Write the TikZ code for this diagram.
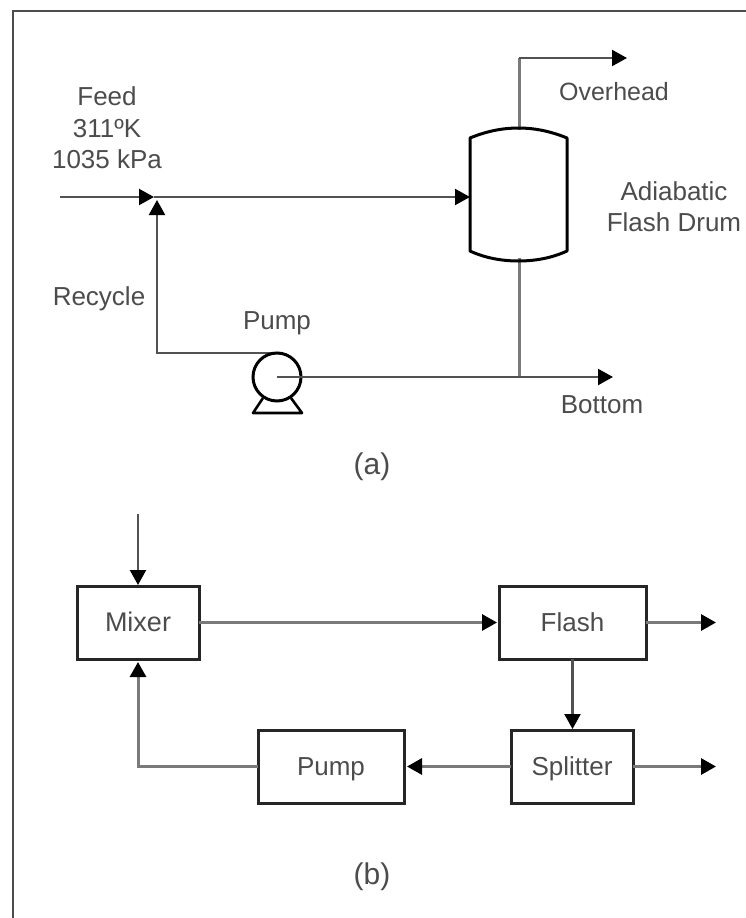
\documentclass[tikz,border=0pt]{standalone}
\usepackage{fontspec}
\setmainfont{Liberation Sans}
\usetikzlibrary{arrows.meta,calc}
\definecolor{inkline}{gray}{0.15}
\definecolor{pipe}{gray}{0.48}
\definecolor{labelgray}{gray}{0.30}
\tikzset{
  lbl/.style={text=labelgray,inner sep=0pt,align=center,font=\fontsize{26}{31.5}\selectfont},
  captionlbl/.style={text=labelgray,inner sep=0pt,font=\fontsize{30}{36}\selectfont},
  blockbox/.style={draw=inkline,line width=3pt,fill=white,inner sep=0pt,outer sep=0pt,text=labelgray,text height=20pt,text depth=3pt,font=\fontsize{26}{30}\selectfont},
  flow/.style={draw=pipe,line width=3pt,-{Triangle[length=15pt,width=16pt,color=black]}},
  plainpipe/.style={draw=pipe,line width=3pt},
  darkflow/.style={draw=inkline!80!white,line width=2.2pt,-{Triangle[length=15pt,width=16pt,color=black]}},
  vessel/.style={draw=black,line width=3pt,line join=round},
}
\begin{document}
\begin{tikzpicture}[x=1pt,y=-1pt]
\useasboundingbox (0,0) rectangle (746,918);
\fill[white] (0,0) rectangle (746,918);
\begin{scope}
\clip (0,0) rectangle (746,918);
\draw[draw=black!70,line width=2.4pt] (760,11) -- (13,11) -- (13,930);
\end{scope}

% (a) process flowsheet
\node[minimum width=97pt,minimum height=133pt,inner sep=0pt,outer sep=0pt] (drum) at (518.5,194.5) {};
\coordinate (pumpc) at (277,377);
\coordinate (feedin) at (60,197);
\coordinate (mix) at (154,197);
\coordinate (rjoin) at (157,200);
\coordinate (rcorner) at (157,353);
\coordinate (ohcorner) at (519,58);
\coordinate (ohend) at (627,58);
\coordinate (drumin) at (470,197);
\coordinate (tee) at (519,377);
\coordinate (bottomend) at (613,377);

\draw[darkflow] (feedin) -- (mix);
\draw[darkflow] (mix) -- (drumin);
\draw[darkflow] (pumpc|-rcorner) -- (rcorner) -- (rjoin);
\draw[plainpipe] (drum.south) ++(0.5,-3) -- (tee);
\draw[plainpipe] (519,130) -- (ohcorner);
\draw[darkflow,line cap=butt] (ohcorner) -- (ohend);

\draw[vessel] (drum.north west) ++(0,10)
  .. controls (487,131) and (503,128) .. (518.5,128)
  .. controls (534,128) and (550,131) .. (567,138)
  -- (567,251)
  .. controls (552,258) and (535,261) .. (518.5,261)
  .. controls (502,261) and (485,258) .. (470,251) -- cycle;

\node[circle,draw=black,line width=3pt,fill=white,minimum size=48pt,inner sep=0pt] (pumpa) at (pumpc) {};
\draw[vessel,line width=2.6pt] (263,398) -- (253,413) -- (302,413) -- (291,398);
\draw[darkflow] (pumpc) -- (bottomend);

\node[lbl] (feedlbl) at (107,128) {Feed\\311ºK\\1035 kPa};
\node[lbl] (recyclelbl) at (99,299) {Recycle};
\node[lbl] (pumplbl) at (277,323) {Pump};
\node[lbl,font=\fontsize{25}{30}\selectfont] (ohlbl) at (614,92) {Overhead};
\node[lbl] (drumlbl) at (674,206.5) {Adiabatic\\Flash Drum};
\node[lbl] (botlbl) at (602,405) {Bottom};
\node[captionlbl] (alabel) at (372,467) {(a)};

% (b) block diagram
\node[blockbox,minimum width=122pt,minimum height=73pt,font=\fontsize{27}{30}\selectfont] (mixer) at (138,622.5) {Mixer};
\node[blockbox,minimum width=147pt,minimum height=73pt] (flash) at (572.5,622.5) {Flash};
\node[blockbox,minimum width=122pt,minimum height=73pt] (split) at (572,766.5) {Splitter};
\node[blockbox,minimum width=146pt,minimum height=73pt] (pumpb) at (331,766.5) {Pump};
\coordinate (inb) at (138,514);
\coordinate (fout) at (716,622.5);
\coordinate (sout) at (716,766.5);
\coordinate (retcorner) at (138,766.5);

\draw[darkflow] (inb) -- ($(mixer.north)+(0,-1)$);
\draw[flow] (mixer.east) -- ($(flash.west)+(-2,0)$);
\draw[flow] (flash.east) -- (fout);
\draw[darkflow] (flash.south) -- ($(flash.south|-split.north)+(0,-1)$);
\draw[flow] (split.west) -- ($(pumpb.east)+(3,0)$);
\draw[flow] (split.east) -- (sout);
\draw[flow] (pumpb.west) -- (retcorner) -- ($(mixer.south)+(0,3)$);
\node[captionlbl] (blabel) at (372,877) {(b)};
\end{tikzpicture}
\end{document}
